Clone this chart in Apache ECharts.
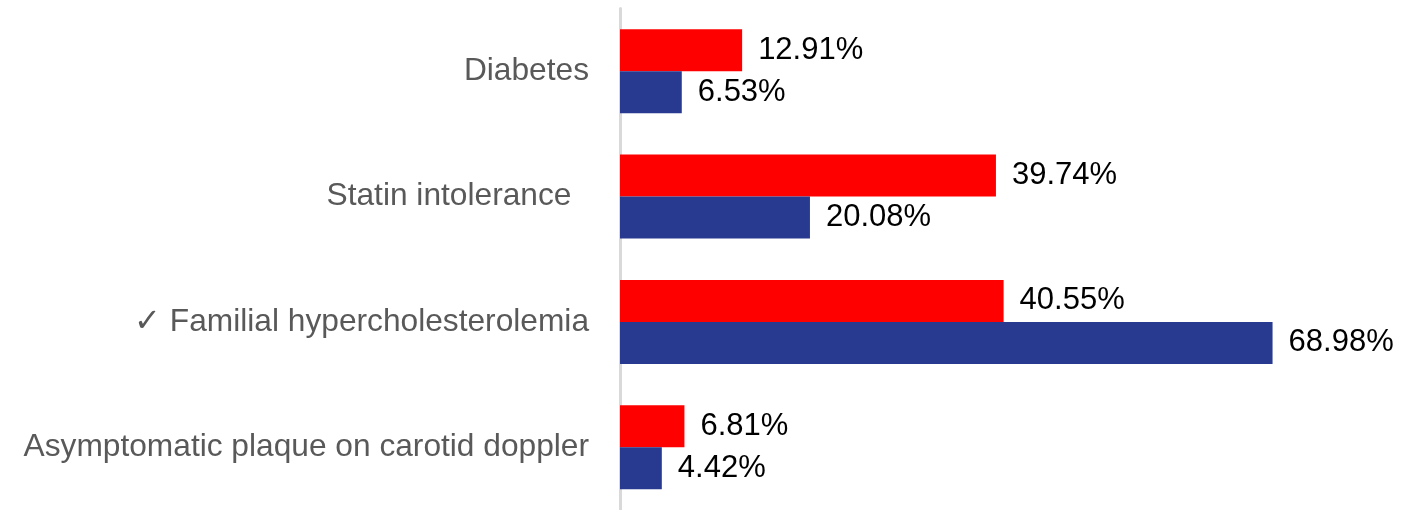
<!DOCTYPE html>
<html>
<head>
<meta charset="utf-8">
<style>
  html, body { margin: 0; padding: 0; background: #ffffff; }
  #chart { width: 1402px; height: 510px; }
</style>
<script src="https://cdn.jsdelivr.net/npm/echarts@6/dist/echarts.min.js"></script>
</head>
<body>
<div id="chart"></div>
<script>
// Indication categories, listed top to bottom
const categories = [
  'Diabetes',
  'Statin intolerance  ',
  '\u2713 Familial hypercholesterolemia',
  'Asymptomatic plaque on carotid doppler'
];

// Share of patients per indication (%)
const redValues = [12.91, 39.74, 40.55, 6.81];
const blueValues = [6.53, 20.08, 68.98, 4.42];

const FONT = '"Liberation Sans", Arial, Helvetica, sans-serif';

const chart = echarts.init(document.getElementById('chart'), null, { renderer: 'canvas' });

const valueLabel = {
  show: true,
  position: 'right',
  distance: 16,
  color: '#000000',
  fontFamily: FONT,
  fontSize: 31,
  formatter: p => p.value.toFixed(2) + '%'
};

chart.setOption({
  animation: false,
  backgroundColor: '#ffffff',
  grid: {
    left: 620,
    top: 8.5,
    width: 756.8,
    height: 508,
    containLabel: false
  },
  xAxis: {
    type: 'value',
    min: 0,
    max: 80,
    show: false
  },
  yAxis: {
    type: 'category',
    inverse: true,
    data: categories,
    offset: 1,
    axisLine: { show: true, lineStyle: { color: '#d9d9d9', width: 3 } },
    axisTick: { show: false },
    splitLine: { show: false },
    axisLabel: {
      color: '#595959',
      fontFamily: FONT,
      fontSize: 31.7,
      margin: 30
    }
  },
  series: [
    {
      name: 'red',
      type: 'bar',
      data: redValues,
      barWidth: 42,
      barGap: '0%',
      itemStyle: { color: '#ff0000' },
      label: valueLabel
    },
    {
      name: 'blue',
      type: 'bar',
      data: blueValues,
      barWidth: 42,
      barGap: '0%',
      itemStyle: { color: '#283a8f' },
      label: valueLabel
    }
  ]
});
</script>
</body>
</html>
